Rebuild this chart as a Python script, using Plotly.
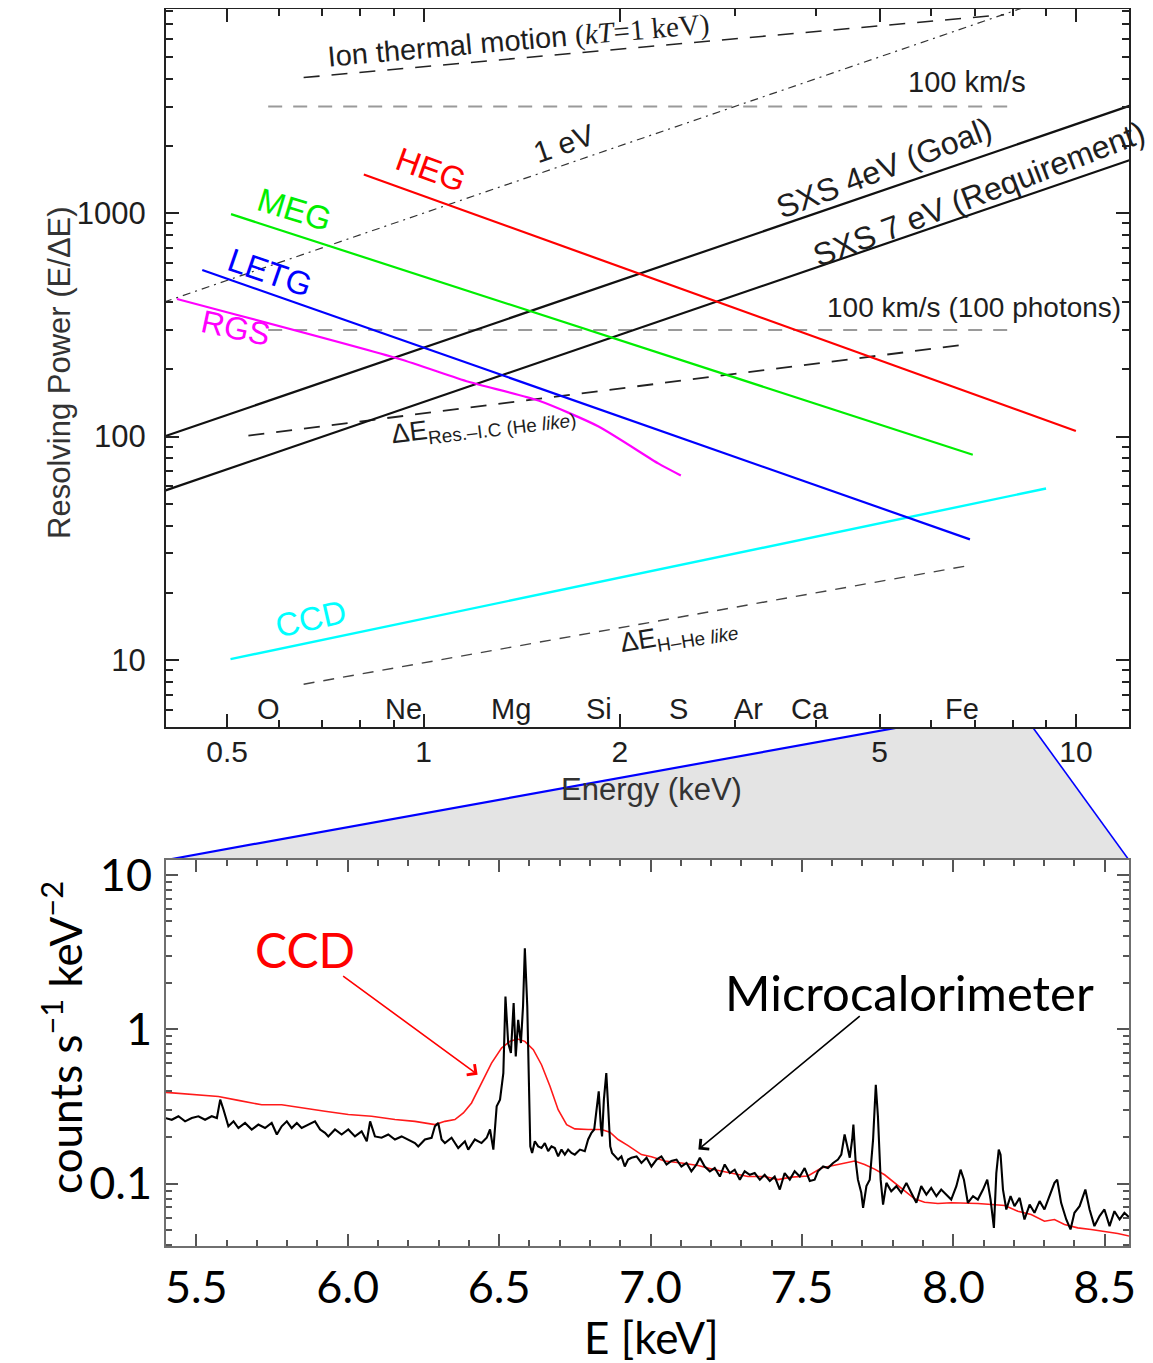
import math
import plotly.graph_objects as go

# ---------------- top panel: resolving power vs energy ----------------
heg_E = [0.81, 10.0];   heg_R = [1490, 106]
meg_E = [0.507, 6.95];  meg_R = [990, 83]
letg_E = [0.458, 6.88]; letg_R = [557, 34.7]
rgs_E = [0.419, 0.916, 1.172, 1.50, 1.855, 2.293, 2.48]
rgs_R = [413, 223, 176, 145, 111, 75.7, 67]
ccd_E = [0.506, 9.0];   ccd_R = [10.1, 58.6]
sxs4_E = [0.40, 12.1];  sxs4_R = [100, 3025]
sxs7_E = [0.40, 12.1];  sxs7_R = [57.1, 1729]
ev1_E = [0.40, 8.3];    ev1_R = [400, 8300]
ion_E = [0.655, 7.76];  ion_R = [4046, 7730]
kms_E = [0.578, 8.03];  kms_R = [3000, 3000]
kms100_E = [0.578, 8.03]; kms100_R = [300, 300]
res_E = [0.539, 6.76];  res_R = [101, 258]
hhe_E = [0.655, 6.76];  hhe_R = [7.8, 26.3]

elements = ["O", "Ne", "Mg", "Si", "S", "Ar", "Ca", "Fe"]
element_E = [0.578, 0.932, 1.36, 1.86, 2.46, 3.15, 3.91, 6.70]

top_xrange = [0.403, 12.06]
top_yrange = [5.02, 8200]
top_xticks = [0.5, 1, 2, 5, 10]
top_xticktext = ["0.5", "1", "2", "5", "10"]
top_xminor = [0.6, 0.7, 0.8, 0.9, 3, 4, 6, 7, 8, 9]
top_yticks = [10, 100, 1000]
top_yminor = [6, 7, 8, 9, 20, 30, 40, 50, 60, 70, 80, 90,
              200, 300, 400, 500, 600, 700, 800, 900, 2000, 3000, 4000, 5000, 6000, 7000, 8000]

# ---------------- bottom panel: spectrum ----------------
mc_E_low = [5.397, 5.419, 5.441, 5.463, 5.485, 5.507, 5.529, 5.551, 5.568, 5.579, 5.590, 5.606,
            5.623, 5.639, 5.661, 5.683, 5.705, 5.727, 5.749, 5.766, 5.782, 5.799, 5.815, 5.832,
            5.848, 5.870, 5.892, 5.909, 5.925, 5.936, 5.958, 5.980, 6.002, 6.024, 6.046, 6.063,
            6.074, 6.090, 6.112, 6.134, 6.156, 6.178, 6.200, 6.222, 6.233, 6.255, 6.277, 6.288,
            6.299, 6.310, 6.321, 6.343, 6.365, 6.387, 6.398, 6.420, 6.442, 6.459, 6.470, 6.481,
            6.492, 6.503, 6.514, 6.521, 6.530, 6.539, 6.548, 6.555, 6.563, 6.572, 6.579, 6.585,
            6.593, 6.598, 6.603, 6.609, 6.618, 6.629, 6.640, 6.651, 6.662, 6.673, 6.684, 6.695,
            6.706, 6.717, 6.728, 6.739, 6.750, 6.767, 6.783, 6.794, 6.805, 6.814, 6.822, 6.829,
            6.836, 6.840, 6.846, 6.854, 6.860, 6.867, 6.873, 6.882, 6.893, 6.904, 6.915, 6.926]
mc_v_low = [0.266, 0.259, 0.273, 0.253, 0.266, 0.273, 0.259, 0.273, 0.266, 0.350, 0.301, 0.235,
            0.253, 0.229, 0.247, 0.224, 0.241, 0.229, 0.247, 0.208, 0.235, 0.253, 0.229, 0.247,
            0.229, 0.241, 0.253, 0.224, 0.213, 0.202, 0.224, 0.208, 0.224, 0.202, 0.218, 0.188,
            0.253, 0.202, 0.198, 0.208, 0.193, 0.202, 0.193, 0.183, 0.174, 0.193, 0.198, 0.235,
            0.247, 0.193, 0.183, 0.198, 0.170, 0.188, 0.166, 0.193, 0.183, 0.198, 0.224, 0.166,
            0.317, 0.350, 0.520, 1.63, 0.814, 0.701, 1.48, 0.667, 1.15, 0.814, 1.41, 3.35,
            1.41, 0.406, 0.174, 0.158, 0.188, 0.174, 0.170, 0.183, 0.162, 0.174, 0.170, 0.150,
            0.166, 0.154, 0.166, 0.158, 0.154, 0.166, 0.162, 0.193, 0.213, 0.224, 0.301, 0.396,
            0.235, 0.202, 0.350, 0.520, 0.317, 0.174, 0.158, 0.150, 0.143, 0.150, 0.129, 0.143]
mc_E_high = [6.937, 6.954, 6.970, 6.987, 7.003, 7.020, 7.036, 7.053, 7.069, 7.086, 7.102, 7.119,
             7.135, 7.152, 7.163, 7.179, 7.196, 7.212, 7.229, 7.245, 7.262, 7.278, 7.295, 7.311,
             7.328, 7.344, 7.361, 7.377, 7.394, 7.410, 7.427, 7.443, 7.460, 7.476, 7.493, 7.509,
             7.526, 7.542, 7.553, 7.570, 7.586, 7.603, 7.619, 7.630, 7.641, 7.650, 7.658, 7.666,
             7.670, 7.677, 7.685, 7.696, 7.702, 7.713, 7.724, 7.735, 7.744, 7.751, 7.760, 7.768,
             7.779, 7.795, 7.812, 7.828, 7.845, 7.861, 7.878, 7.894, 7.911, 7.927, 7.944, 7.960,
             7.977, 7.993, 8.010, 8.024, 8.035, 8.048, 8.065, 8.081, 8.098, 8.112, 8.123, 8.134,
             8.142, 8.150, 8.156, 8.164, 8.175, 8.189, 8.202, 8.219, 8.235, 8.252, 8.268, 8.285,
             8.301, 8.318, 8.334, 8.343, 8.356, 8.373, 8.387, 8.400, 8.417, 8.436, 8.450, 8.466,
             8.483, 8.499, 8.516, 8.532, 8.549, 8.565, 8.582]
mc_v_high = [0.147, 0.150, 0.136, 0.147, 0.129, 0.143, 0.150, 0.133, 0.140, 0.143, 0.129, 0.136,
             0.120, 0.133, 0.147, 0.129, 0.120, 0.126, 0.111, 0.133, 0.117, 0.123, 0.106, 0.120,
             0.114, 0.117, 0.106, 0.114, 0.104, 0.111, 0.0914, 0.117, 0.106, 0.120, 0.111, 0.126,
             0.104, 0.106, 0.120, 0.129, 0.126, 0.136, 0.143, 0.154, 0.208, 0.174, 0.147, 0.193,
             0.241, 0.143, 0.106, 0.0871, 0.0696, 0.0962, 0.106, 0.193, 0.437, 0.273, 0.106, 0.0731,
             0.101, 0.0891, 0.0962, 0.0871, 0.101, 0.0871, 0.0750, 0.0962, 0.0849, 0.0938, 0.0828, 0.0914,
             0.0849, 0.0787, 0.0962, 0.123, 0.106, 0.0750, 0.0828, 0.0787, 0.0914, 0.106, 0.0787, 0.0516,
             0.117, 0.166, 0.154, 0.0914, 0.0679, 0.0828, 0.0713, 0.0807, 0.0585, 0.0731, 0.0646, 0.0769,
             0.0679, 0.0828, 0.101, 0.106, 0.0750, 0.0585, 0.0504, 0.0646, 0.0713, 0.0914, 0.0679, 0.0530,
             0.0615, 0.0679, 0.0530, 0.0662, 0.0585, 0.0646, 0.0600]

ccdspec_E_low = [5.397, 5.452, 5.518, 5.573, 5.639, 5.716, 5.782, 5.848, 5.925, 6.002, 6.079, 6.156,
                 6.222, 6.288, 6.321, 6.354, 6.382, 6.409, 6.442, 6.475, 6.508, 6.536, 6.561, 6.585,
                 6.613, 6.640, 6.668, 6.695, 6.723, 6.750, 6.794, 6.838, 6.866, 6.893, 6.926]
ccdspec_v_low = [0.390, 0.383, 0.377, 0.367, 0.346, 0.324, 0.324, 0.309, 0.294, 0.280, 0.273, 0.260,
                 0.253, 0.241, 0.253, 0.260, 0.287, 0.333, 0.449, 0.604, 0.755, 0.835, 0.864, 0.835,
                 0.738, 0.589, 0.427, 0.301, 0.241, 0.226, 0.224, 0.224, 0.215, 0.193, 0.176]
ccdspec_E_high = [6.970, 7.003, 7.047, 7.102, 7.157, 7.212, 7.267, 7.322, 7.377, 7.421, 7.465, 7.520,
                  7.564, 7.608, 7.652, 7.674, 7.707, 7.740, 7.773, 7.806, 7.839, 7.872, 7.905, 7.949,
                  7.993, 8.037, 8.081, 8.126, 8.170, 8.213, 8.257, 8.301, 8.334, 8.367, 8.411, 8.455,
                  8.499, 8.543, 8.582]
ccdspec_v_high = [0.154, 0.149, 0.140, 0.136, 0.131, 0.123, 0.117, 0.111, 0.111, 0.106, 0.110, 0.112,
                  0.126, 0.131, 0.137, 0.140, 0.133, 0.124, 0.114, 0.101, 0.0891, 0.0796, 0.0757, 0.0742,
                  0.0750, 0.0750, 0.0742, 0.0731, 0.0721, 0.0662, 0.0630, 0.0570, 0.0585, 0.0543, 0.0516, 0.0504,
                  0.0491, 0.0474, 0.0456]

bot_xrange = [5.40, 8.58]
bot_yrange = [0.0391, 12.5]
bot_xticks = [5.5, 6.0, 6.5, 7.0, 7.5, 8.0, 8.5]
bot_xminor = [round(5.4 + 0.1 * i, 1) for i in range(32)]
bot_yticks = [0.1, 1, 10]
bot_yminor = [0.04, 0.05, 0.06, 0.07, 0.08, 0.09, 0.2, 0.3, 0.4, 0.5, 0.6, 0.7, 0.8, 0.9,
              2, 3, 4, 5, 6, 7, 8, 9]

# ---------------- layout geometry ----------------
# the page body adds an 8px margin, so the figure is 8px smaller than the window
W, H = 1145, 1355
XDOM = [0.1380, 0.9790]
TOP_YDOM = [0.4694, 0.9993]
BOT_YDOM = [0.0860, 0.3712]
GAP_YDOM = [BOT_YDOM[1], TOP_YDOM[0]]

L = math.log10
SANS = "Liberation Sans, Arial, sans-serif"
BSANS = "Lato, Noto Sans, sans-serif"
TXT = "#1e1e1e"

fig = go.Figure()

# gap polygon (zoom indicator) on its own invisible axes (xy)
fig.add_trace(go.Scatter(
    x=[L(bot_xrange[0]), L(bot_xrange[1]), L(top_xrange[1]), L(top_xrange[0]), L(bot_xrange[0])],
    y=[1, 1, 0, 0, 1], fill="toself", fillcolor="#e4e4e4", mode="lines",
    line=dict(width=0, color="rgba(0,0,0,0)"), xaxis="x", yaxis="y", hoverinfo="skip", showlegend=False))
fig.add_trace(go.Scatter(x=[L(top_xrange[0]), L(bot_xrange[0])], y=[0, 1], mode="lines",
                         line=dict(color="#0000ff", width=2.2), xaxis="x", yaxis="y", showlegend=False))
fig.add_trace(go.Scatter(x=[L(bot_xrange[1]), L(top_xrange[1])], y=[1, 0], mode="lines",
                         line=dict(color="#0000ff", width=1.6), xaxis="x", yaxis="y", showlegend=False))


def top_line(E, R, color, width=2.2, dash="solid"):
    fig.add_trace(go.Scatter(x=E, y=R, mode="lines", line=dict(color=color, width=width, dash=dash),
                             xaxis="x2", yaxis="y2", showlegend=False, hoverinfo="skip"))


top_line(kms_E, kms_R, "#9a9a9a", 2, "14px,11px")
top_line(kms100_E, kms100_R, "#9a9a9a", 2, "14px,11px")
top_line(ion_E, ion_R, "#222222", 1.6, "16px,12px")
top_line(ev1_E, ev1_R, "#333333", 1.2, "8px,5px,2px,5px")
top_line(res_E, res_R, "#222222", 1.8, "16px,12px")
top_line(hhe_E, hhe_R, "#444444", 1.4, "11px,9px")
top_line(sxs4_E, sxs4_R, "#111111", 2.2)
top_line(sxs7_E, sxs7_R, "#111111", 2.2)
top_line(ccd_E, ccd_R, "#00ffff", 2.4)
fig.add_trace(go.Scatter(x=rgs_E, y=rgs_R, mode="lines", line=dict(color="#ff00ff", width=2.2, shape="spline",
                                                                    smoothing=0.6),
                         xaxis="x2", yaxis="y2", showlegend=False, hoverinfo="skip"))
top_line(letg_E, letg_R, "#0000ff", 2.2)
top_line(meg_E, meg_R, "#00ee00", 2.2)
top_line(heg_E, heg_R, "#ff0000", 2.2)

# bottom spectra
fig.add_trace(go.Scatter(x=ccdspec_E_low + ccdspec_E_high, y=ccdspec_v_low + ccdspec_v_high, mode="lines",
                         line=dict(color="#ff1a1a", width=1.6), xaxis="x3", yaxis="y3", showlegend=False))
fig.add_trace(go.Scatter(x=mc_E_low + mc_E_high, y=mc_v_low + mc_v_high, mode="lines",
                         line=dict(color="#000000", width=2.1), xaxis="x3", yaxis="y3", showlegend=False))

# ---------------- annotations ----------------
ann = []


def tlabel(text, E, R, color=TXT, size=30, angle=0, family=SANS):
    ann.append(dict(text=text, x=L(E), y=L(R), xref="x2", yref="y2", showarrow=False,
                    xanchor="center", yanchor="middle",
                    textangle=angle, font=dict(family=family, size=size, color=color)))


def plabel(text, x, y, size, family, color, angle=0):
    ann.append(dict(text=text, x=x, y=y, xref="paper", yref="paper", showarrow=False,
                    xanchor="center", yanchor="middle", textangle=angle,
                    font=dict(family=family, size=size, color=color)))


tlabel("Ion thermal motion <span style='font-family:Liberation Serif'>(<i>kT</i>=1 keV)</span>",
       1.40, 5900, size=29, angle=-5)
tlabel("100 km/s", 6.80, 3846, size=29)
tlabel("1 eV", 1.64, 2050, size=30, angle=-19)
tlabel("HEG", 1.025, 1560, color="#ff0000", size=33, angle=20)
tlabel("MEG", 0.634, 1040, color="#00ee00", size=33, angle=17)
tlabel("LETG", 0.582, 545, color="#0000ff", size=33, angle=19)
tlabel("RGS", 0.515, 305, color="#ff00ff", size=32, angle=12)
tlabel("SXS 4eV (Goal)", 5.08, 1600, size=32, angle=-21)
tlabel("SXS 7 eV (Requirement)", 7.10, 1216, size=32, angle=-21)
tlabel("100 km/s (100 photons)", 6.98, 380, size=28)
tlabel("ΔE<sub>Res.–I.C (He <i>like</i>)</sub>", 1.236, 113, size=27, angle=-7)
tlabel("CCD", 0.673, 15.4, color="#00ffff", size=33, angle=-13)
tlabel("ΔE<sub>H–He <i>like</i></sub>", 2.46, 12.8, size=27, angle=-9)
for name, e in zip(elements, element_E):
    tlabel(name, e, 6.04, size=29)

# axis titles
plabel("Resolving Power (E/ΔE)", 0.0454, 0.7314, 31, SANS, "#333333", angle=-90)
plabel("Energy (keV)", 0.5616, 0.4229, 31, SANS, "#333333")
plabel("counts s<sup>−1</sup> keV<sup>−2</sup>", 0.0472, 0.2399, 44, BSANS, "#000", angle=-90)
plabel("E [keV]", 0.5616, 0.0195, 44, BSANS, "#000")

# bottom labels and arrows
ann.append(dict(text="CCD", x=5.858, y=0.515, xref="x3", yref="y3", showarrow=False,
                xanchor="center", yanchor="middle", font=dict(family=BSANS, size=48, color="#ff0000")))
ann.append(dict(text="Microcalorimeter", x=7.855, y=0.243, xref="x3", yref="y3", showarrow=False,
                xanchor="center", yanchor="middle", font=dict(family=BSANS, size=49, color="#000")))
ann.append(dict(text="", x=6.429, y=L(0.508), ax=5.980, ay=L(2.25), xref="x3", yref="y3",
                axref="x3", ayref="y3", showarrow=True, arrowhead=4, arrowsize=1.6, arrowwidth=1.6,
                arrowcolor="#ff0000"))
ann.append(dict(text="", x=7.158, y=L(0.166), ax=7.696, ay=L(1.24), xref="x3", yref="y3",
                axref="x3", ayref="y3", showarrow=True, arrowhead=4, arrowsize=1.6, arrowwidth=1.6,
                arrowcolor="#000000"))

top_axis_common = dict(showline=True, linewidth=2, linecolor="#222", mirror="allticks", ticks="inside",
                       ticklen=13, tickwidth=1.5, tickcolor="#222", showgrid=False, zeroline=False,
                       automargin=False)
bot_axis_common = dict(showline=True, linewidth=2, linecolor="#6f6f6f", mirror="allticks", ticks="inside",
                       ticklen=12, tickwidth=1.5, tickcolor="#555", showgrid=False, zeroline=False,
                       automargin=False)

fig.update_layout(
    width=W, height=H, margin=dict(l=0, r=0, t=0, b=0, autoexpand=False),
    paper_bgcolor="white", plot_bgcolor="rgba(0,0,0,0)", showlegend=False,
    annotations=ann,
    xaxis=dict(domain=XDOM, range=[L(top_xrange[0]), L(top_xrange[1])], visible=False, anchor="y",
               automargin=False),
    yaxis=dict(domain=GAP_YDOM, range=[0, 1], visible=False, anchor="x", automargin=False),
    xaxis2=dict(type="log", domain=XDOM, anchor="y2", range=[L(top_xrange[0]), L(top_xrange[1])],
                tickmode="array", tickvals=top_xticks, ticktext=top_xticktext, ticklabelstandoff=-3,
                tickfont=dict(family=SANS, size=30, color=TXT),
                minor=dict(tickmode="array", tickvals=top_xminor, ticks="inside", ticklen=7,
                           tickcolor="#222", showgrid=False),
                **top_axis_common),
    yaxis2=dict(type="log", domain=TOP_YDOM, anchor="x2", range=[L(top_yrange[0]), L(top_yrange[1])],
                tickmode="array", tickvals=top_yticks, ticktext=["10", "100", "1000"], ticklabelstandoff=12,
                tickfont=dict(family=SANS, size=31, color=TXT),
                minor=dict(tickmode="array", tickvals=top_yminor, ticks="inside", ticklen=7,
                           tickcolor="#222", showgrid=False),
                **top_axis_common),
    xaxis3=dict(domain=XDOM, anchor="y3", range=bot_xrange, tickmode="array", tickvals=bot_xticks,
                tickformat=".1f", ticklabelstandoff=1,
                tickfont=dict(family=BSANS, size=45, color="#000"),
                minor=dict(tickmode="array", tickvals=bot_xminor, ticks="inside", ticklen=6,
                           tickcolor="#555", showgrid=False),
                **bot_axis_common),
    yaxis3=dict(type="log", domain=BOT_YDOM, anchor="x3", range=[L(bot_yrange[0]), L(bot_yrange[1])],
                tickmode="array", tickvals=bot_yticks, ticktext=["0.1", "1", "10"], ticklabelstandoff=3,
                tickfont=dict(family=BSANS, size=45, color="#000"),
                minor=dict(tickmode="array", tickvals=bot_yminor, ticks="inside", ticklen=6,
                           tickcolor="#555", showgrid=False),
                **bot_axis_common),
)

fig.write_html("out.html")
